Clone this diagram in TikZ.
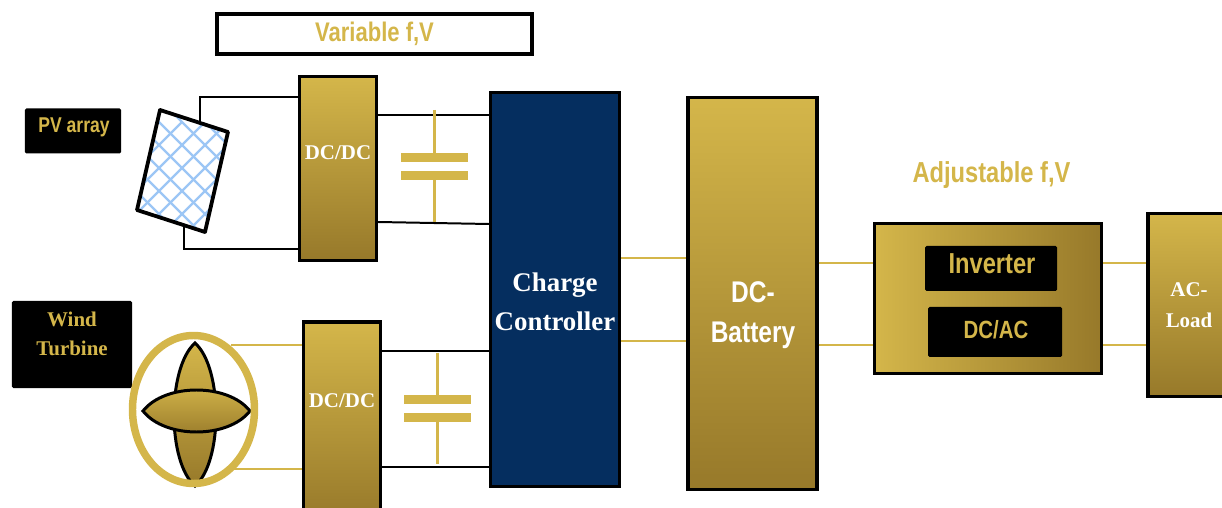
\documentclass[tikz,border=0pt]{standalone}
\usepackage{fontspec}
\usepackage{tikz}
\usetikzlibrary{positioning,calc,shapes.geometric}
\setmainfont{Liberation Serif}
\newfontfamily\narrowsans[FakeStretch=0.82]{Liberation Sans}
\definecolor{gold}{HTML}{D4B64A}
\definecolor{darkgold}{HTML}{97792A}
\definecolor{navy}{HTML}{052E5F}
\definecolor{panelblue}{HTML}{9CC6F5}
\tikzset{
    my block/.style = {draw=black, line width=3.4pt, top color=gold, bottom color=darkgold, inner sep=0pt},% coordinates and sizes are in pixels of the reference
    my label/.style = {draw=none, fill=black, rounded corners=1.5pt, inner sep=0pt, align=center, text=gold},
    my text/.style = {inner sep=0pt, align=center, text=white, font=\bfseries\fontsize{21}{31}\selectfont},
    my edge/.style = {-, black, line width=2pt},
    gold edge/.style = {-, gold, line width=2.5pt},
    my plate/.style = {fill=gold, draw=none, minimum width=67bp, minimum height=9bp, inner sep=0pt},
    my blade/.style = {black, line width=3pt, top color=gold, bottom color=darkgold}
}
\begin{document}
\begin{tikzpicture}[x=1bp,y=-1bp]
    \useasboundingbox (0,0) rectangle (1222,508);
    \clip (0,0) rectangle (1222,508);
    % blocks
    \node[my block, minimum width=77bp, minimum height=184bp] (dc1) at (338,168.5) {};
    \node[my block, minimum width=77bp, minimum height=198bp] (dc2) at (342,421) {};
    \node[my block, top color=navy, bottom color=navy, minimum width=129bp, minimum height=394bp] (cc) at (555,289.5) {};
    \node[my block, minimum width=129bp, minimum height=392bp] (bat) at (752.5,293.5) {};
    \node[my block, left color=gold, right color=darkgold, minimum width=227bp, minimum height=150bp] (inv) at (988,298.5) {};
    \node[my block, minimum width=82bp, minimum height=183bp] (load) at (1189,305) {};
    \node[my label, minimum width=132bp, minimum height=45bp] (inverter) at (991,268.5) {};
    \node[my label, minimum width=134bp, minimum height=50bp] (dcac) at (995,332) {};
    \node[my label, minimum width=96bp, minimum height=45bp] (pv) at (73,131) {};
    \node[my label, minimum width=120bp, minimum height=87bp] (wind) at (72,344.5) {};
    % texts
    \node[my text] (dc1t) at (338,153) {DC/DC};
    \node[my text] (dc2t) at (342,401) {DC/DC};
    \node[my text, font=\bfseries\fontsize{27}{39}\selectfont] (cct) at (555,302) {Charge\\Controller};
    \node[my text, font=\narrowsans\bfseries\fontsize{30}{40}\selectfont] (batt) at (753,315) {DC-\\Battery};
    \node[my text] (loadt) at (1189,305) {AC-\\Load};
    \node[my text, text=gold, font=\narrowsans\bfseries\fontsize{29}{34}\selectfont] (invt) at (992,264) {Inverter};
    \node[my text, text=gold, font=\narrowsans\bfseries\fontsize{25}{30}\selectfont] (dcact) at (996,330) {DC/AC};
    \node[my text, text=gold, font=\narrowsans\bfseries\fontsize{21.5}{26}\selectfont] (pvt) at (74,127) {PV array};
    \node[my text, text=gold, font=\bfseries\fontsize{21}{29}\selectfont] (windt) at (72,334) {Wind\\Turbine};
    % titles
    \node[draw=black, line width=3.4pt, minimum width=315bp, minimum height=40bp, inner sep=0pt, text=gold, font=\narrowsans\bfseries\fontsize{27}{30}\selectfont] (var) at (374.5,34) {Variable f,V};
    \node[text=gold, inner sep=0pt, font=\narrowsans\bfseries\fontsize{29}{34}\selectfont] (adj) at (991.5,175) {Adjustable f,V};
    % pv panel
    \coordinate (p1) at (200,121);
    \coordinate (p2) at (184,225);
    \draw[my edge] (p1) |- (dc1.west |- 0,97);
    \draw[my edge] (p2) |- (dc1.west |- 0,249);
    \begin{scope}
        \clip (160,110) -- (228,132) -- (205,232) -- (137,210) -- cycle;
        \fill[white] (130,105) rectangle (235,235);
        \foreach \i in {-8,...,8} {
            \draw[panelblue, line width=2.4pt] ($(160,110)+(\i*23,-10)$) -- ++(130,130);
            \draw[panelblue, line width=2.4pt] ($(228,132)+(\i*23,-10)$) -- ++(-130,130);
        }
    \end{scope}
    \draw[black, line width=3.8pt, line join=round] (160,110) -- (228,132) -- (205,232) -- (137,210) -- cycle;
    % wind turbine
    \draw[my blade] (195,343) .. controls (167,368) and (167,462) .. (195,486) .. controls (223,462) and (223,368) .. (195,343) -- cycle;
    \draw[my blade] (143,411) .. controls (165,383) and (228,383) .. (250,411) .. controls (228,439) and (165,439) .. (143,411) -- cycle;
    \node[ellipse, draw=gold, line width=7.5pt, minimum width=122bp, minimum height=148bp, inner sep=0pt] (wt) at (193.5,409.5) {};
    \coordinate (w1) at (231,345);
    \coordinate (w2) at (231,469);
    \draw[gold edge] (w1) -- (w1 -| dc2.west);
    \draw[gold edge] (w2) -- (w2 -| dc2.west);
    % dc bus and capacitors
    \draw[my edge] (dc1.east |- 0,115) -- (cc.west |- 0,115);
    \draw[my edge] (dc1.east |- 0,222) -- (cc.west |- 0,224);
    \draw[my edge, line width=2.8pt] (dc2.east |- 0,351) -- (cc.west |- 0,351);
    \draw[my edge] (dc2.east |- 0,467) -- (cc.west |- 0,467);
    \node[my plate] (c1a) at (434.5,157.5) {};
    \node[my plate] (c1b) at (434.5,175.5) {};
    \node[my plate] (c2a) at (437.5,399.5) {};
    \node[my plate] (c2b) at (437.5,417.5) {};
    \coordinate (c1t) at (434.5,110);
    \coordinate (c1d) at (434.5,222);
    \coordinate (c2t) at (437.5,353);
    \coordinate (c2d) at (437.5,464);
    \draw[gold edge, line width=3pt] (c1t) -- (c1a);
    \draw[gold edge, line width=3pt] (c1b) -- (c1d);
    \draw[gold edge, line width=3pt] (c2t) -- (c2a);
    \draw[gold edge, line width=3pt] (c2b) -- (c2d);
    % gold links on the right
    \draw[gold edge] (cc.east |- 0,258) -- (bat.west |- 0,258);
    \draw[gold edge] (cc.east |- 0,341) -- (bat.west |- 0,341);
    \draw[gold edge] (bat.east |- 0,263) -- (inv.west |- 0,263);
    \draw[gold edge] (bat.east |- 0,345) -- (inv.west |- 0,345);
    \draw[gold edge] (inv.east |- 0,263) -- (load.west |- 0,263);
    \draw[gold edge] (inv.east |- 0,345) -- (load.west |- 0,345);
\end{tikzpicture}
\end{document}
